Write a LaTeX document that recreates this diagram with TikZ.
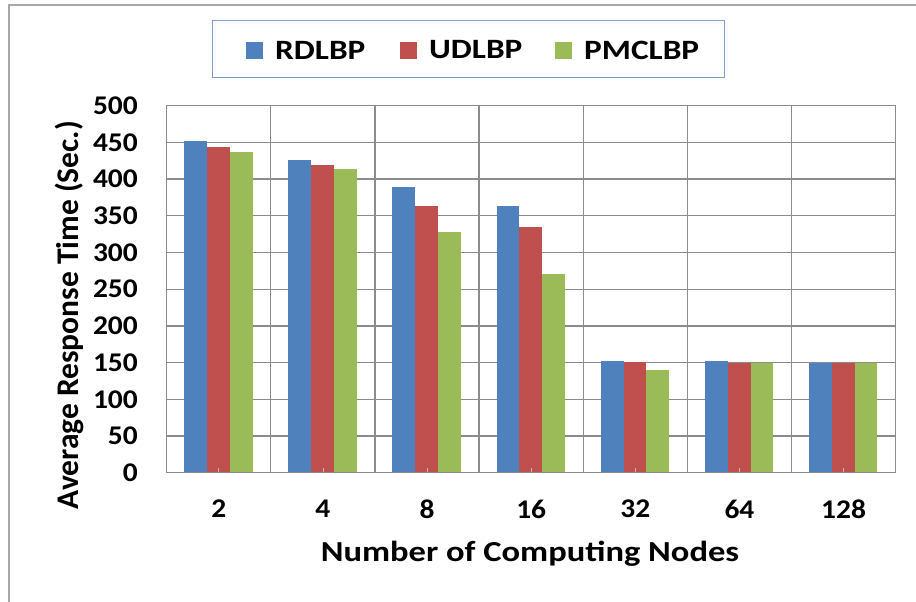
\documentclass[tikz,border=0pt]{standalone}
\usepackage{fontspec}
\setmainfont{Carlito}
\newfontfamily\wfont[FakeStretch=1.19]{Carlito}
\newfontfamily\tfont[FakeStretch=1.09]{Carlito}
\definecolor{sblue}{HTML}{4F81BD}
\definecolor{sred}{HTML}{C0504D}
\definecolor{sgreen}{HTML}{9BBB59}
\definecolor{gridgray}{HTML}{8C8C8C}
\definecolor{framegray}{HTML}{A8A8A8}
\definecolor{legblue}{HTML}{7F9CC6}
\begin{document}
\begin{tikzpicture}[x=1pt,y=-1pt,
  grid/.style={draw=gridgray,line width=1.3pt},
  lab/.style={font=\tfont\bfseries\fontsize{27}{27}\selectfont,inner sep=0pt},
  legtxt/.style={font=\wfont\bfseries\fontsize{28}{28}\selectfont,inner sep=0pt,anchor=west},
  ttl/.style={font=\wfont\bfseries\fontsize{29}{29}\selectfont,inner sep=0pt},
  vttl/.style={font=\bfseries\fontsize{31.5}{31.5}\selectfont,inner sep=0pt,rotate=90},
  legsq/.style={inner sep=0pt,minimum size=17pt,anchor=north west}]
\useasboundingbox (0,0) rectangle (916,602);
\fill[white] (0,0) rectangle (916,602);
\draw[framegray,line width=2pt] (9,602) -- (9,5) -- (916,5);
% grid
\foreach \k in {1,...,9} \draw[grid] (166.7,{472.7-36.7*\k}) -- (895.7,{472.7-36.7*\k});
\foreach \k in {1,...,6} \draw[grid] ({166.7+104.14*\k},105.7) -- ({166.7+104.14*\k},472.7);
% bars
\foreach \i/\a/\b/\c in {0/452/443.3/436.5,1/425.6/418.8/414.2,2/389.6/363.4/328,3/363.4/334.7/270.7,4/152.6/150.4/139.5,5/152.6/150/150,6/150/150/150}{
  \pgfmathsetmacro{\xo}{166.7+104.14*\i+17.5}
  \fill[sblue] (\xo,472.7) rectangle ({\xo+22.8},{472.7-0.734*\a});
  \fill[sred] ({\xo+22.8},472.7) rectangle ({\xo+45.6},{472.7-0.734*\b});
  \fill[sgreen] ({\xo+45.6},472.7) rectangle ({\xo+68.4},{472.7-0.734*\c});
  \draw[gridgray!60,line width=0.8pt] ({166.7+104.14*\i+52.07},472.7) -- ++(0,-5);
}
\draw[grid] (166.7,105.7) rectangle (895.7,472.7);
% y labels
\foreach \k in {0,...,10}
  \node[lab,anchor=east] (y\k) at (138,{472.7-36.7*\k}) {\the\numexpr 50*\k\relax};
% x labels
\foreach \i/\t in {0/2,1/4,2/8,3/16,4/32,5/64,6/128}
  \node[lab] (x\i) at ({166.7+104.14*\i+52.07},509) {\t};
\node[ttl] (xt) at (530,554) {Number of Computing Nodes};
\node[vttl] (yt) at (69,315) {Average Response Time (Sec.)};
% legend
\node[draw=legblue,line width=1pt,minimum width=512pt,minimum height=57pt,anchor=north west,inner sep=0pt] (leg) at (212,20) {};
\node[legsq,fill=sblue] (s1) at (246,41.7) {};
\node[legtxt] (l1) at (275,50) {RDLBP};
\node[legsq,fill=sred] (s2) at (400,41.7) {};
\node[legtxt] (l2) at (429,50) {UDLBP};
\node[legsq,fill=sgreen] (s3) at (555,41.7) {};
\node[legtxt] (l3) at (584,50) {PMCLBP};
\end{tikzpicture}
\end{document}
